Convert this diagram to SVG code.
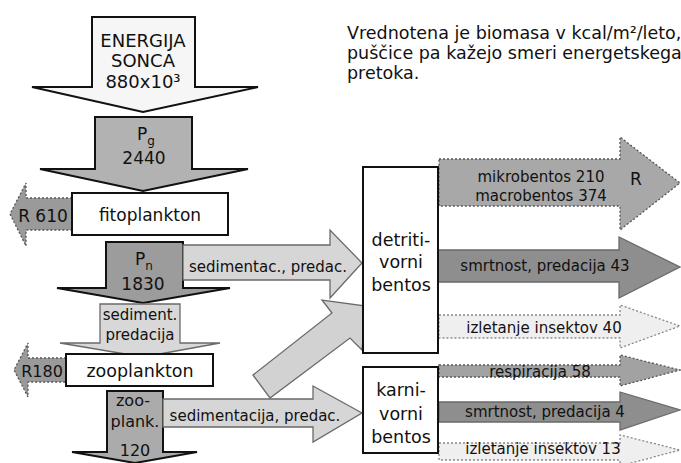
<svg xmlns="http://www.w3.org/2000/svg" width="681" height="463" viewBox="0 0 681 463">
<style>
text{font-family:"DejaVu Sans","Verdana",sans-serif;fill:#111;text-anchor:middle}
.t18{font-size:18px}
.t17{font-size:17px}
.t16{font-size:16px}
.t15{font-size:15px}
.hd{font-size:17.5px;text-anchor:start}
.solid{stroke:#111;stroke-width:2}
.thin{stroke:#6a6a6a;stroke-width:1.3}
.dot{stroke:#555;stroke-width:1.3;stroke-dasharray:2 2}
.dotl{stroke:#888;stroke-width:1.3;stroke-dasharray:2 2}
.box{fill:#fff;stroke:#111;stroke-width:2}
</style>
<rect width="681" height="463" fill="#fff"/>
<text class="hd" x="347" y="39">Vrednotena je biomasa v kcal/m²/leto,</text>
<text class="hd" x="347" y="59">puščice pa kažejo smeri energetskega</text>
<text class="hd" x="347" y="79">pretoka.</text>
<g id="connectors">
<g id="energija">
<polygon class="solid" fill="#f6f6f6" points="92,17 195,17 195,87 258,87 143,112 32,87 92,87"/>
<text class="t18" x="143" y="47">ENERGIJA</text>
<text class="t18" x="143" y="67">SONCA</text>
<text class="t18" x="143" y="88">880x10³</text>
</g>
<g id="pg">
<polygon class="solid" fill="#b2b2b2" points="95,117 192,117 192,169 248,169 143,191 40,169 95,169"/>
<text class="t17" x="146" y="140">P<tspan font-size="12" dy="5">g</tspan></text>
<text class="t17" x="144" y="164">2440</text>
</g>
<g id="r610">
<polygon class="dot" fill="#9a9a9a" points="72,198 26,198 26,183 10,214 26,246 26,230 72,230"/>
<text class="t17" x="43" y="222">R 610</text>
</g>
<g id="pn">
<polygon class="solid" fill="#9c9c9c" points="106,242 183,242 183,288 230,288 143,303 57,288 106,288"/>
<text class="t17" x="144" y="265">P<tspan font-size="12" dy="5">n</tspan></text>
<text class="t17" x="143" y="290">1830</text>
</g>
<g id="sedpred1">
<polygon class="thin" fill="#d6d6d6" points="183,245 330,245 330,230 362,263 330,298 330,280 183,280"/>
<text class="t15" x="268" y="272">sedimentac., predac.</text>
</g>
<g id="sedpred2">
<polygon class="thin" fill="#d8d8d8" points="100,304 180,304 180,343 220,343 143,357 60,343 100,343"/>
<text class="t15" x="140" y="320">sediment.</text>
<text class="t15" x="140" y="340">predacija</text>
</g>
<g id="r180">
<polygon class="dot" fill="#9a9a9a" points="66,358 28,358 28,343 14,370 28,397 28,382 66,382"/>
<text class="t16" x="42" y="377">R180</text>
</g>
<g id="diag">
<polygon class="thin" fill="#d2d2d2" points="253,375 332,313 322,300 366,306 362,350 350,338 270,398"/>
</g>
<g id="zooplank">
<polygon class="solid" fill="#ababab" points="107,391 163,391 163,452 197,452 135,463 72,452 107,452"/>
<text class="t16" x="133" y="406">zoo-</text>
<text class="t16" x="135" y="427">plank.</text>
<text class="t16" x="135" y="456">120</text>
</g>
<g id="sedpred3">
<polygon class="thin" fill="#d6d6d6" points="163,399 313,399 313,386 362,413 313,442 313,427 163,427"/>
<text class="t15" x="255" y="421">sedimentacija, predac.</text>
</g>
<g id="mikro">
<polygon class="dot" fill="#a8a8a8" points="439,159 620,159 620,137 680,183 620,230 620,206 439,206"/>
<text class="t15" x="541" y="182">mikrobentos 210</text>
<text class="t15" x="541" y="201">macrobentos 374</text>
<text class="t17" x="636" y="185">R</text>
</g>
<g id="smrt43">
<polygon class="thin" fill="#8e8e8e" stroke="#333" points="438,250 619,250 619,237 680,267 619,298 619,282 438,282"/>
<text class="t15" x="545" y="271">smrtnost, predacija 43</text>
</g>
<g id="izl40">
<polygon class="dotl" fill="#efefef" points="439,315 620,315 620,305 680,326 620,348 620,338 439,338"/>
<text class="t15" x="544" y="333">izletanje insektov 40</text>
</g>
<g id="resp58">
<polygon class="dot" fill="#a2a2a2" points="439,365 620,365 620,355 680,370 620,386 620,377 439,377"/>
<text class="t15" x="540" y="377">respiracija 58</text>
</g>
<g id="smrt4">
<polygon class="thin" fill="#8e8e8e" stroke="#333" points="439,402 620,402 620,392 680,410 620,430 620,422 439,422"/>
<text class="t15" x="545" y="417">smrtnost, predacija 4</text>
</g>
<g id="izl13">
<polygon class="dotl" fill="#efefef" points="439,443 620,443 620,435 680,450 620,466 620,460 439,460"/>
<text class="t15" x="543" y="454">izletanje insektov 13</text>
</g>
</g>
<g id="fitoplankton">
<rect class="box" x="72" y="193" width="156" height="42"/>
<text class="t17" x="150" y="221">fitoplankton</text>
</g>
<g id="zooplankton">
<rect class="box" x="66" y="354" width="147" height="32"/>
<text style="font-size:17.5px" x="140" y="377">zooplankton</text>
</g>
<g id="detritivorni">
<rect class="box" x="363" y="167" width="75" height="186"/>
<text style="font-size:17.5px" x="401" y="246">detriti-</text>
<text style="font-size:17.5px" x="401" y="268">vorni</text>
<text style="font-size:17.5px" x="401" y="291">bentos</text>
</g>
<g id="karnivorni">
<rect class="box" x="363" y="367" width="75" height="86"/>
<text style="font-size:17.5px" x="401" y="396">karni-</text>
<text style="font-size:17.5px" x="401" y="420">vorni</text>
<text style="font-size:17.5px" x="401" y="443">bentos</text>
</g>
</svg>
